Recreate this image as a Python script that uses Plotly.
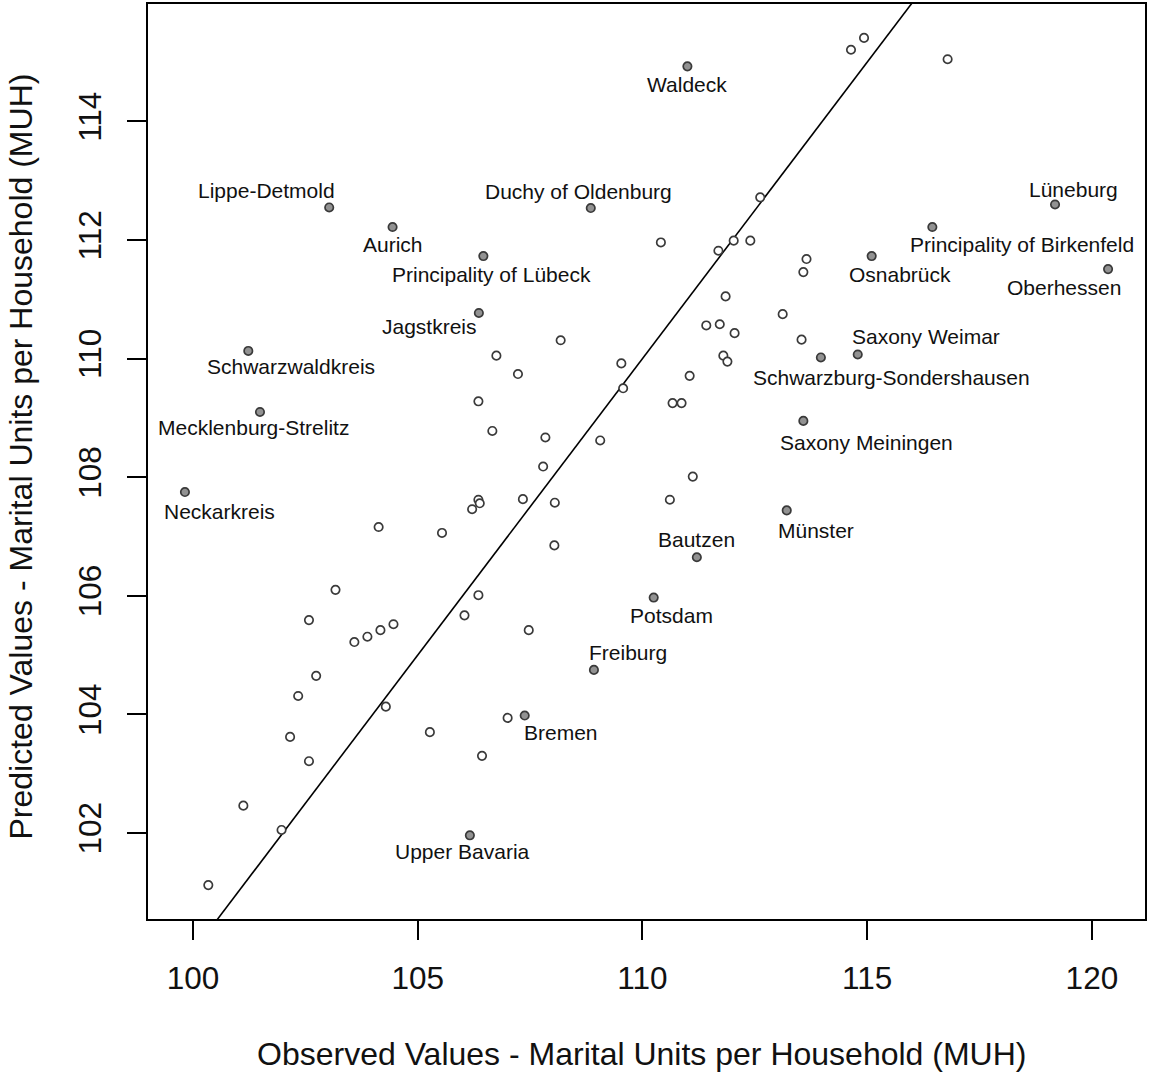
import plotly.graph_objects as go

# ---------------- data ----------------
# highlighted (labelled) districts: observed vs predicted MUH
lab_names = ["Waldeck", "Lippe-Detmold", "Duchy of Oldenburg", "Lüneburg", "Aurich",
             "Principality of Birkenfeld", "Principality of Lübeck", "Osnabrück", "Oberhessen",
             "Jagstkreis", "Saxony Weimar", "Schwarzwaldkreis", "Schwarzburg-Sondershausen",
             "Mecklenburg-Strelitz", "Saxony Meiningen", "Neckarkreis", "Münster", "Bautzen",
             "Potsdam", "Freiburg", "Bremen", "Upper Bavaria"]
lab_obs = [111.00, 103.03, 108.85, 119.18, 104.44, 116.45, 106.46, 115.10, 120.36,
           106.36, 114.79, 101.23, 113.97, 101.49, 113.58, 99.82, 113.21, 111.21,
           110.25, 108.92, 107.38, 106.16]
lab_pred = [114.93, 112.55, 112.54, 112.60, 112.22, 112.22, 111.73, 111.73, 111.51,
            110.77, 110.07, 110.13, 110.02, 109.10, 108.95, 107.75, 107.44, 106.65,
            105.97, 104.75, 103.98, 101.96]

# remaining districts
obs = [106.75, 107.23, 106.35, 106.66, 106.35, 106.38, 106.21, 107.34, 104.13, 105.54,
       103.17, 106.35, 106.04, 102.58, 103.59, 103.88, 104.17, 104.46, 107.47, 102.74,
       102.34, 104.29, 102.16, 102.58, 105.27, 107.00, 106.43, 101.12, 101.97, 100.34,
       112.62, 110.41, 111.69, 112.03, 112.40, 113.65, 113.58, 111.85, 113.12, 111.42,
       111.72, 112.05, 108.18, 109.53, 109.57, 107.84, 109.06, 107.79, 111.80, 111.89,
       111.05, 110.67, 110.87, 108.05, 108.04, 111.12, 110.61, 114.64, 114.93, 116.79,
       113.54]
pred = [110.05, 109.74, 109.28, 108.78, 107.62, 107.56, 107.46, 107.63, 107.16, 107.06,
        106.10, 106.01, 105.67, 105.59, 105.22, 105.31, 105.42, 105.52, 105.42, 104.65,
        104.31, 104.13, 103.62, 103.21, 103.70, 103.94, 103.30, 102.46, 102.05, 101.12,
        112.72, 111.96, 111.82, 111.99, 111.99, 111.68, 111.46, 111.05, 110.75, 110.56,
        110.58, 110.43, 110.31, 109.92, 109.50, 108.67, 108.62, 108.18, 110.05, 109.95,
        109.71, 109.25, 109.25, 107.57, 106.85, 108.01, 107.62, 115.21, 115.41, 115.05,
        110.32]

x_ticks = [100, 105, 110, 115, 120]
y_ticks = [102, 104, 106, 108, 110, 112, 114]

x_title = "Observed Values - Marital Units per Household (MUH)"
y_title = "Predicted Values - Marital Units per Household (MUH)"

# label placement (pixel offsets of label centre from its point: dx right, dy down)
label_offsets = [(0, 18), (-63, -17), (-12, -17), (18, -15), (0, 17),
                 (90, 17.5), (8, 18), (28, 18), (-44, 18),
                 (-49, 13.5), (68.5, -17.7), (43, 16), (71, 20),
                 (-6, 16), (63, 21.5), (35, 19), (29.5, 20), (0, -18),
                 (18, 17.7), (34.5, -17), (36, 17), (-7, 16)]

# ---------------- style ----------------
FONT = "Liberation Sans, Arial, Helvetica, sans-serif"
AX_FONT = 31.5
TITLE_FONT = 32
LAB_FONT = 21
EDGE = "#3a3a3a"
FILL = "#929292"
MSIZE = 8.4

# R-style axis extent (4% padding)
all_x = obs + lab_obs
all_y = pred + lab_pred
rx = max(all_x) - min(all_x)
ry = max(all_y) - min(all_y)
xr = [min(all_x) - 0.04 * rx, max(all_x) + 0.04 * rx]
yr = [min(all_y) - 0.04 * ry, max(all_y) + 0.04 * ry]

fig = go.Figure()

# 45-degree reference line y = x (clipped to plot area)
lo = min(xr[0], yr[0]) - 1
hi = max(xr[1], yr[1]) + 1
fig.add_trace(go.Scatter(x=[lo, hi], y=[lo, hi], mode="lines",
                         line=dict(color="black", width=1.6), hoverinfo="skip",
                         showlegend=False))

fig.add_trace(go.Scatter(x=obs, y=pred, mode="markers",
                         marker=dict(size=MSIZE, color="white",
                                     line=dict(color=EDGE, width=1.7)),
                         showlegend=False))

fig.add_trace(go.Scatter(x=lab_obs, y=lab_pred, mode="markers",
                         marker=dict(size=MSIZE, color=FILL,
                                     line=dict(color=EDGE, width=1.7)),
                         text=lab_names, showlegend=False))

annotations = []
for name, xv, yv, (dx, dy) in zip(lab_names, lab_obs, lab_pred, label_offsets):
    annotations.append(dict(x=xv, y=yv, xref="x", yref="y", text=name,
                            showarrow=False, xanchor="center", yanchor="middle",
                            xshift=dx, yshift=-dy,
                            font=dict(family=FONT, size=LAB_FONT, color="#111111")))

annotations.append(dict(x=0.5, y=0, xref="paper", yref="paper", text=x_title,
                        showarrow=False, xanchor="center", yanchor="middle",
                        xshift=-5, yshift=-(1054 - 919),
                        font=dict(family=FONT, size=TITLE_FONT, color="#111111")))
annotations.append(dict(x=0, y=0.5, xref="paper", yref="paper", text=y_title,
                        showarrow=False, xanchor="center", yanchor="middle",
                        xshift=-(148 - 20), yshift=5, textangle=-90,
                        font=dict(family=FONT, size=TITLE_FONT, color="#111111")))

axis_common = dict(showgrid=False, zeroline=False, showline=True, mirror=True,
                   linecolor="black", linewidth=1.5, ticks="outside", ticklen=19,
                   tickwidth=1.5, tickcolor="black",
                   tickfont=dict(family=FONT, size=AX_FONT, color="#111111"))

fig.update_layout(
    width=1149, height=1072,
    margin=dict(l=148, r=2, t=3, b=153),
    paper_bgcolor="white", plot_bgcolor="white",
    showlegend=False,
    xaxis=dict(range=xr, tickvals=x_ticks, ticktext=[str(v) for v in x_ticks],
               ticklabelstandoff=11, **axis_common),
    yaxis=dict(range=yr, tickvals=y_ticks, ticktext=[str(v) for v in y_ticks],
               tickangle=-90, ticklabelstandoff=14, **axis_common),
    annotations=annotations,
)

fig.write_html("out.html",
               config={"displayModeBar": False},
               post_script="document.body.style.margin='0';"
                           "document.body.style.overflow='hidden';")
